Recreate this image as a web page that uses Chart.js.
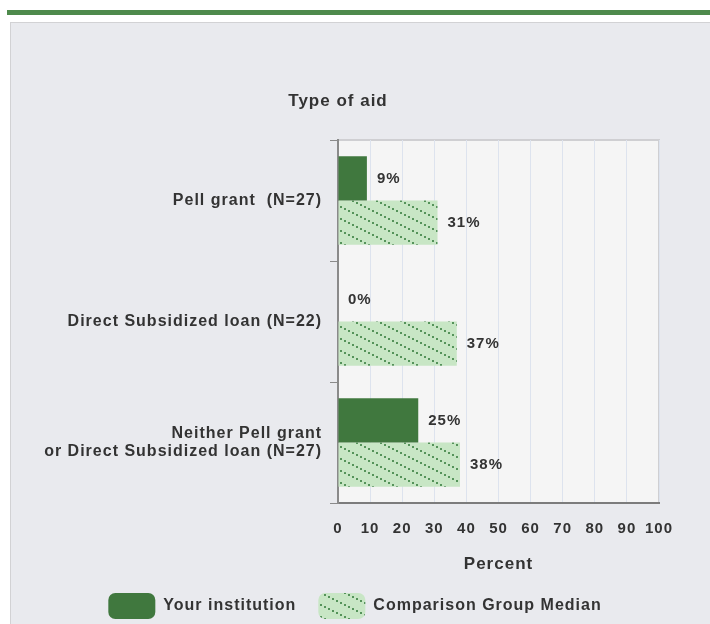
<!DOCTYPE html>
<html>
<head>
<meta charset="utf-8">
<script src="https://cdn.jsdelivr.net/npm/chart.js@4"></script>
<style>
  html, body { margin: 0; background: #ffffff; height: 624px; overflow: hidden; }
  body { position: relative; }
  #band { position: absolute; left: 7px; width: 900px; top: 10px; height: 5px; background: #4e8a4c; }
  #panel { position: absolute; left: 10px; top: 22px; width: 900px; height: 700px; background: #e9eaee; border-left: 1px solid #d2d2d4; border-top: 1px solid #d2d2d4; }
  #chart { position: absolute; left: 0; top: 0; }
</style>
</head>
<body>
<div id="band"></div>
<div id="panel"></div>
<canvas id="chart"></canvas>
<script>
// kategorier och värden
const categories = [
  "Pell grant  (N=27)",
  "Direct Subsidized loan (N=22)",
  ["Neither Pell grant", "or Direct Subsidized loan (N=27)"],
];
const institutionValues = [9, 0, 25];
const comparisonValues = [31, 37, 38];
const seriesNames = ["Your institution", "Comparison Group Median"];
const axisTitle = "Percent";
const groupTitle = "Type of aid";

//canvas lite högre än fönstret så att legenden hamnar längst ner
const canvas = document.querySelector("#chart");
canvas.width = 710;
canvas.height = 629;
const ctx = canvas.getContext("2d");

const darkGreen = "#40783e";
const textColor = "#333333";
const fontFamily = "'Liberation Sans', Arial, sans-serif";
const spacing = "1px";

// prickig diagonal skraffering för jämförelsegruppen
const makeHatch = () => {
  const tile = document.createElement("canvas");
  tile.width = 24;
  tile.height = 12;
  const g = tile.getContext("2d");
  g.fillStyle = "#c8e6c5";
  g.fillRect(0, 0, 24, 12);
  g.fillStyle = "#55935a";
  for (let t = 0; t < 24; t += 4) {
    g.fillRect(t, t / 2, 2, 2);
  }
  return ctx.createPattern(tile, "repeat");
};
const hatch = makeHatch();

// bredare teckenavstånd som i originalet
const letterSpacing = {
  id: "letterSpacing",
  beforeUpdate(chart) { chart.ctx.letterSpacing = spacing; },
  beforeDraw(chart) { chart.ctx.letterSpacing = spacing; },
};

// legenden centreras över hela bredden, inte bara ritytan
const legendWide = {
  id: "legendWide",
  afterLayout(chart) {
    chart.legend.right = chart.width;
  },
};

// bakgrund och ram för ritytan
const plotBg = {
  id: "plotBg",
  beforeDraw(chart) {
    const a = chart.chartArea;
    const c = chart.ctx;
    c.save();
    c.fillStyle = "#f5f5f5";
    c.fillRect(a.left, a.top, a.right - a.left, a.bottom - a.top);
    c.strokeStyle = "#cfcfd2";
    c.lineWidth = 2;
    c.beginPath();
    c.moveTo(a.left, a.top);
    c.lineTo(a.right, a.top);
    c.lineTo(a.right, a.bottom);
    c.stroke();
    c.restore();
  },
};

// rubrik ovanför y-axeln + procentetiketter vid staplarna
const extras = {
  id: "extras",
  afterDatasetsDraw(chart) {
    const c = chart.ctx;
    c.save();
    c.fillStyle = textColor;
    c.font = "bold 15px " + fontFamily;
    c.textAlign = "left";
    c.textBaseline = "middle";
    chart.data.datasets.forEach((ds, i) => {
      chart.getDatasetMeta(i).data.forEach((bar, j) => {
        c.fillText(ds.data[j] + "%", bar.x + 10, bar.y);
      });
    });
    c.font = "bold 17px " + fontFamily;
    c.textAlign = "center";
    c.fillText(groupTitle, chart.chartArea.left, chart.chartArea.top - 39);
    c.restore();
  },
};

let mChart = new Chart(ctx, {
  type: "bar",
  data: {
    labels: categories,
    datasets: [
      {
        label: seriesNames[0],
        data: institutionValues,
        backgroundColor: darkGreen,
        borderWidth: 0,
      },
      {
        label: seriesNames[1],
        data: comparisonValues,
        backgroundColor: hatch,
        borderWidth: 0,
      },
    ],
  },
  options: {
    indexAxis: "y",
    responsive: false,
    animation: false,
    barPercentage: 1,
    categoryPercentage: 0.73,
    layout: { padding: { top: 140, right: 51, left: 0, bottom: 0 } },
    scales: {
      x: {
        min: 0,
        max: 100,
        afterFit: (scale) => { scale.height = 68; },
        ticks: {
          stepSize: 10,
          padding: 17,
          maxRotation: 0,
          minRotation: 0,
          autoSkip: false,
          color: textColor,
          font: { family: fontFamily, size: 15, weight: "bold" },
        },
        grid: { color: "#dde3ee", lineWidth: 1, tickLength: 0, drawTicks: false },
        border: { color: "#7c7c7c", width: 2 },
        title: {
          display: true,
          text: axisTitle,
          color: textColor,
          padding: { top: 4, bottom: -4 },
          font: { family: fontFamily, size: 17, weight: "bold" },
        },
      },
      y: {
        afterFit: (scale) => { scale.width = 338; },
        ticks: {
          padding: 8,
          color: textColor,
          font: { family: fontFamily, size: 16, weight: "bold", lineHeight: 1.15 },
        },
        grid: { display: true, drawOnChartArea: false, drawTicks: true, tickLength: 8, color: "#8a8a8a", offset: true },
        border: { color: "#8a8a8a", width: 2 },
      },
    },
    plugins: {
      tooltip: { enabled: false },
      legend: {
        position: "bottom",
        labels: {
          boxWidth: 47,
          boxHeight: 26,
          padding: 22,
          useBorderRadius: true,
          borderRadius: 7,
          color: textColor,
          font: { family: fontFamily, size: 16, weight: "bold" },
        },
      },
    },
  },
  plugins: [letterSpacing, legendWide, plotBg, extras],
});
</script>
</body>
</html>
